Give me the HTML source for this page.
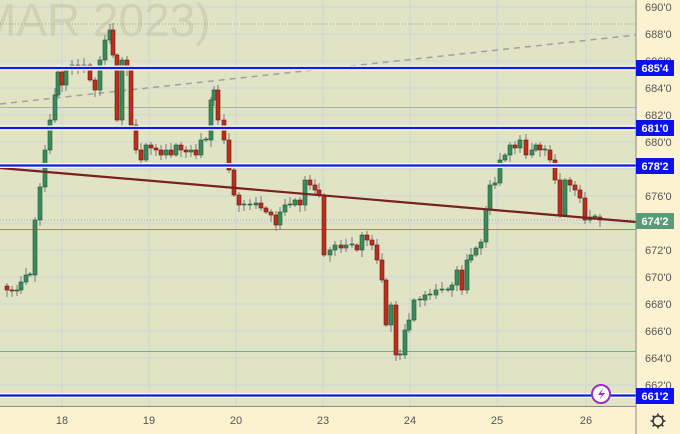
<!DOCTYPE html>
<html><head><meta charset="utf-8">
<style>
html,body{margin:0;padding:0;width:680px;height:434px;overflow:hidden;background:#fdf2cf;font-family:"Liberation Sans",sans-serif}
svg{display:block}
</style></head><body>
<svg id="s" width="680" height="434" xmlns="http://www.w3.org/2000/svg">
<rect x="0" y="0" width="636" height="406" fill="#e1e3c5"/>
<rect x="636" y="0" width="44" height="434" fill="#fdf2cf"/>
<rect x="0" y="406" width="636" height="28" fill="#fdf2cf"/>
<g id="grid"></g>
<text x="-22" y="36" font-size="46" fill="#c9cbb0" opacity="0.7" font-family="Liberation Sans">MAR 2023)</text>
<g id="lines"></g>
<g id="candles"></g>
<g id="toplayer"></g>
<line x1="636" y1="0" x2="636" y2="434" stroke="#8a8a80" stroke-width="1"/>
<line x1="0" y1="406.5" x2="636" y2="406.5" stroke="#8a8a80" stroke-width="1"/>
<g id="axis" font-size="11" fill="#555"></g>
</svg>
<script>
(function(){
var NS="http://www.w3.org/2000/svg";
function el(p,t,a,txt){var e=document.createElementNS(NS,t);for(var k in a)e.setAttribute(k,a[k]);if(txt!=null)e.textContent=txt;document.getElementById(p).appendChild(e);return e;}
function Y(p){return 7+(690-p)*13.5;}
for(var p=662;p<=690;p+=2){var y=Y(p);el("grid","line",{x1:0,x2:636,y1:y,y2:y,stroke:"#ccd6d6","stroke-width":1});}
var days=[[62,"18"],[149,"19"],[236,"20"],[323,"23"],[410,"24"],[497,"25"],[586,"26"]];
days.forEach(function(d){el("grid","line",{x1:d[0],x2:d[0],y1:0,y2:406,stroke:"#ccd6d6","stroke-width":1});
el("axis","text",{x:d[0],y:424,"text-anchor":"middle"},d[1]);});
el("lines","line",{x1:0,x2:636,y1:24,y2:24,stroke:"#999","stroke-width":1,"stroke-dasharray":"1,2"});
el("lines","line",{x1:0,x2:636,y1:107.5,y2:107.5,stroke:"#a6c850","stroke-width":1});
el("lines","line",{x1:0,x2:636,y1:220,y2:220,stroke:"#aaa","stroke-width":1,"stroke-dasharray":"1,2"});
el("lines","line",{x1:0,x2:636,y1:229.5,y2:229.5,stroke:"#4cb850","stroke-width":1});
el("lines","line",{x1:0,x2:636,y1:351.5,y2:351.5,stroke:"#5cb890","stroke-width":1});
el("lines","line",{x1:0,x2:636,y1:104,y2:35,stroke:"#a0a0a0","stroke-width":1.5,"stroke-dasharray":"6,5"});
var k=[[2,286],[7,290],[12,291],[17,290],[21,282],[26,275],[30,275],[35,220],[40,187],[45,150],[50,120],[55,95],[58,72],[62,85],[66,70],[72,65],[78,70],[84,65],[90,80],[95,90],[100,60],[105,40],[110,30],[113,55],[117,120],[122,60],[127,70],[131,125],[136,150],[141,160],[146,145],[151,148],[156,150],[161,155],[166,150],[171,155],[176,145],[181,150],[186,152],[191,150],[196,155],[201,140],[206,140],[211,100],[214,90],[218,120],[224,140],[229,170],[234,195],[239,205],[244,205],[250,205],[256,203],[261,208],[266,212],[271,215],[276,225],[280,212],[285,205],[290,205],[295,200],[300,205],[305,180],[310,185],[315,190],[319,195],[324,255],[330,250],[335,245],[341,248],[346,245],[352,245],[357,250],[362,235],[367,240],[372,245],[377,260],[382,280],[386,325],[391,305],[396,355],[400,355],[405,330],[409,320],[414,300],[420,300],[425,295],[430,295],[436,290],[442,290],[448,290],[452,285],[457,270],[462,290],[467,260],[471,255],[476,248],[481,242],[486,210],[490,185],[495,183],[500,160],[505,155],[510,145],[515,148],[520,140],[526,155],[532,150],[536,145],[540,150],[545,150],[550,160],[555,180],[560,215],[565,180],[570,185],[575,190],[580,198],[585,220],[590,217],[595,217],[600,220]];
for(var i=1;i<k.length;i++){var x=k[i][0],o=k[i-1][1],c=k[i][1];
var up=c<o; if(Math.abs(c-o)<1){c=o-1;up=true;}
var tp=Math.min(o,c),bt=Math.max(o,c);var w1=2+((i*7)%6),w2=2+((i*11)%6);
el("candles","line",{x1:x,x2:x,y1:tp-w1,y2:bt+w2,stroke:"#7a7a7a","stroke-width":1});
el("candles","rect",{x:x-2,y:tp,width:4,height:Math.max(1,bt-tp),fill:up?"#3a8a5c":"#b83020",stroke:up?"#1e5a3a":"#701810","stroke-width":0.6});}
el("toplayer","line",{x1:0,x2:636,y1:168,y2:222,stroke:"#7a2020","stroke-width":2.2});
[68,128,165.5,395.5].forEach(function(y){el("toplayer","line",{x1:0,x2:636,y1:y,y2:y,stroke:"#fffbe0","stroke-width":5});
el("toplayer","line",{x1:0,x2:636,y1:y,y2:y,stroke:"#0a1cf0","stroke-width":2.2});});
var lab=[[690,"690'0"],[688,"688'0"],[686,"686'0"],[684,"684'0"],[682,"682'0"],[680,"680'0"],[676,"676'0"],[672,"672'0"],[670,"670'0"],[668,"668'0"],[666,"666'0"],[664,"664'0"],[662,"662'0"]];
lab.forEach(function(l){el("axis","text",{x:645,y:Y(l[0])+4},l[1]);});
[[68,"685'4","#0a10f0"],[128,"681'0","#0a10f0"],[166,"678'2","#0a10f0"],[221,"674'2","#5a9a78"],[396,"661'2","#0a10f0"]].forEach(function(b){
el("axis","rect",{x:636,y:b[0]-8,width:38,height:16,fill:b[2]});
el("axis","text",{x:655,y:b[0]+4,"text-anchor":"middle",fill:"#fff","font-weight":"bold"},b[1]);});
el("toplayer","circle",{cx:601,cy:394,r:9,fill:"#fff",stroke:"#9a30c0","stroke-width":2});
el("toplayer","path",{d:"M603 388 L598 395 L602 395 L599 400 L605 393 L601 393 Z",fill:"#9a30c0"});
el("axis","circle",{cx:658,cy:421,r:5,fill:"none",stroke:"#333","stroke-width":1.5});
for(var a=0;a<8;a++){var t=a*Math.PI/4;el("axis","line",{x1:658+5*Math.cos(t),y1:421+5*Math.sin(t),x2:658+7.5*Math.cos(t),y2:421+7.5*Math.sin(t),stroke:"#333","stroke-width":1.6});}
})();
</script>
</body></html>
